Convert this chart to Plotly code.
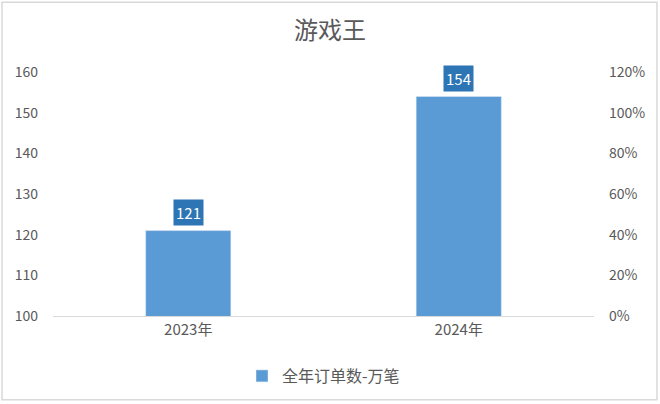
import plotly.graph_objects as go

# 数据
years = ["2023年", "2024年"]
orders = [121, 154]
series_name = "全年订单数-万笔"
left_ticks = [100, 110, 120, 130, 140, 150, 160]
right_ticks = [0, 0.2, 0.4, 0.6, 0.8, 1.0, 1.2]

W, H = 660, 404
L, R, T, B = 53, 66, 72, 87
pw, ph = W - L - R, H - T - B

font_cn = "Noto Sans CJK SC, Microsoft YaHei, sans-serif"
grey = "#595959"

fig = go.Figure()
fig.add_trace(go.Bar(
    x=years, y=orders, name=series_name,
    marker_color="#5b9bd5", width=0.315,
))
# invisible trace so the right axis is drawn
fig.add_trace(go.Scatter(x=years, y=[None, None], yaxis="y2",
                         showlegend=False, hoverinfo="skip"))

for yr, v in zip(years, orders):
    fig.add_annotation(
        x=yr, y=v, text=str(v), showarrow=False, yshift=18,
        bgcolor="#2e75b6", font=dict(color="white", size=15, family=font_cn),
        borderpad=2,
    )

# chart border
fig.add_shape(type="rect", xref="paper", yref="paper",
              x0=-(L - 2) / pw, x1=1 + (R - 3) / pw,
              y0=-(B - 3) / ph, y1=1 + (T - 2) / ph,
              line=dict(color="#d9d9d9", width=1.5))

fig.update_layout(
    width=W, height=H,
    margin=dict(l=L, r=R, t=T, b=B),
    paper_bgcolor="white", plot_bgcolor="white",
    font=dict(family=font_cn, color=grey, size=13),
    title=dict(text="游戏王", x=0.5, xanchor="center", y=1 - 31 / H, yanchor="middle",
               font=dict(size=24, color=grey)),
    xaxis=dict(showline=True, linecolor="#d9d9d9", linewidth=1, ticks="",
               tickfont=dict(size=15, color=grey)),
    yaxis=dict(range=[100, 160], tickvals=left_ticks, showgrid=False,
               zeroline=False, ticks="", ticklabelstandoff=14,
               tickfont=dict(size=14, color=grey)),
    yaxis2=dict(range=[0, 1.2], tickvals=right_ticks, tickformat=".0%",
                overlaying="y", side="right", showgrid=False, zeroline=False,
                ticklabelstandoff=14, tickfont=dict(size=14, color=grey)),
    showlegend=True,
    legend=dict(orientation="h", x=0.5, xanchor="center", y=-(376 - T - ph) / ph,
                yanchor="middle", font=dict(size=16, color=grey)),
    bargap=0.685,
)

fig.write_html("out.html", config={"displayModeBar": False},
               post_script="document.body.style.margin='0';document.body.style.overflow='hidden';")
